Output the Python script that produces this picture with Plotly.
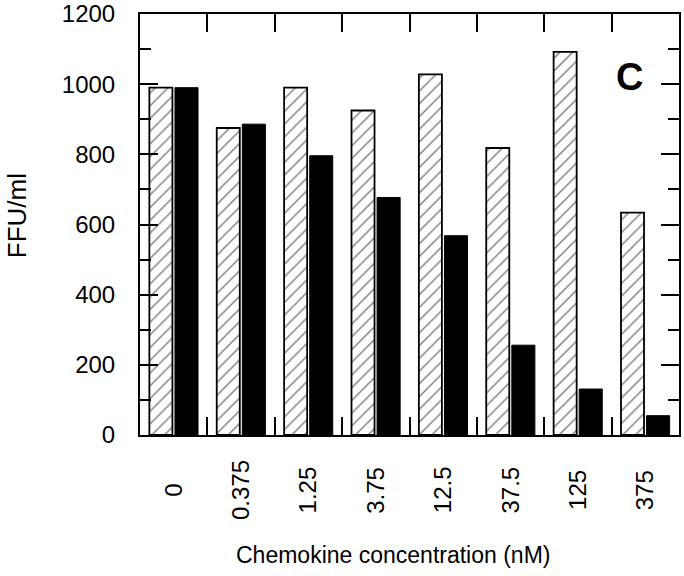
import plotly.graph_objects as go

categories = ["0", "0.375", "1.25", "3.75", "12.5", "37.5", "125", "375"]
control_values = [990, 875, 990, 925, 1028, 818, 1092, 634]
chemokine_values = [990, 886, 796, 677, 568, 256, 131, 55]
y_ticks = [0, 200, 400, 600, 800, 1000, 1200]

FONT = "Liberation Sans, Arial, Helvetica, sans-serif"

fig = go.Figure()
fig.add_trace(go.Bar(
    x=categories, y=control_values, name="control",
    marker=dict(color="white", line=dict(color="black", width=1.8),
                pattern=dict(shape="/", fgcolor="black", bgcolor="white",
                             size=9, solidity=0.16)),
))
fig.add_trace(go.Bar(
    x=categories, y=chemokine_values, name="chemokine",
    marker=dict(color="black", line=dict(color="black", width=1.0)),
))

fig.update_layout(
    width=684, height=576,
    margin=dict(l=140, r=5, t=14, b=141, autoexpand=False),
    paper_bgcolor="white", plot_bgcolor="white",
    barmode="group", bargap=0.24, bargroupgap=0.1,
    showlegend=False,
    font=dict(family=FONT, color="black"),
)
fig.update_xaxes(
    type="category", range=[-0.5, 7.5], tickson="boundaries",
    ticks="inside", ticklen=18, tickwidth=2, tickcolor="black",
    showline=True, linecolor="black", linewidth=2, mirror="ticks",
    showgrid=False, showticklabels=False, zeroline=False, automargin=False,
)
fig.update_yaxes(
    range=[0, 1200], tickvals=y_ticks, ticktext=[str(v) for v in y_ticks],
    ticks="inside", ticklen=18, tickwidth=2, tickcolor="black",
    minor=dict(dtick=100, ticks="inside", ticklen=11, tickwidth=2, tickcolor="black"),
    showline=True, linecolor="black", linewidth=2, mirror="allticks",
    showgrid=False, zeroline=False, automargin=False,
    tickfont=dict(family=FONT, size=24, color="black"),
    ticklabelstandoff=18,
)

annotations = []
for i, c in enumerate(categories):
    annotations.append(dict(
        x=i, xref="x", y=-0.1306, yref="paper", text=c, showarrow=False,
        textangle=-90, xanchor="center", yanchor="middle",
        font=dict(family=FONT, size=24, color="black"),
    ))
annotations.append(dict(
    x=0.469, xref="paper", y=-0.285, yref="paper",
    text="Chemokine concentration (nM)", showarrow=False,
    xanchor="center", yanchor="middle",
    font=dict(family=FONT, size=23, color="black"),
))
annotations.append(dict(
    x=-0.228, xref="paper", y=0.52, yref="paper", text="FFU/ml",
    showarrow=False, textangle=-90, xanchor="center", yanchor="middle",
    font=dict(family=FONT, size=26, color="black"),
))
annotations.append(dict(
    x=0.909, xref="paper", y=0.850, yref="paper", text="<b>C</b>",
    showarrow=False, xanchor="center", yanchor="middle",
    font=dict(family=FONT, size=38, color="black"),
))
fig.update_layout(annotations=annotations)

fig.write_html("out.html", config={"displayModeBar": False},
               post_script="document.body.style.margin='0';")
